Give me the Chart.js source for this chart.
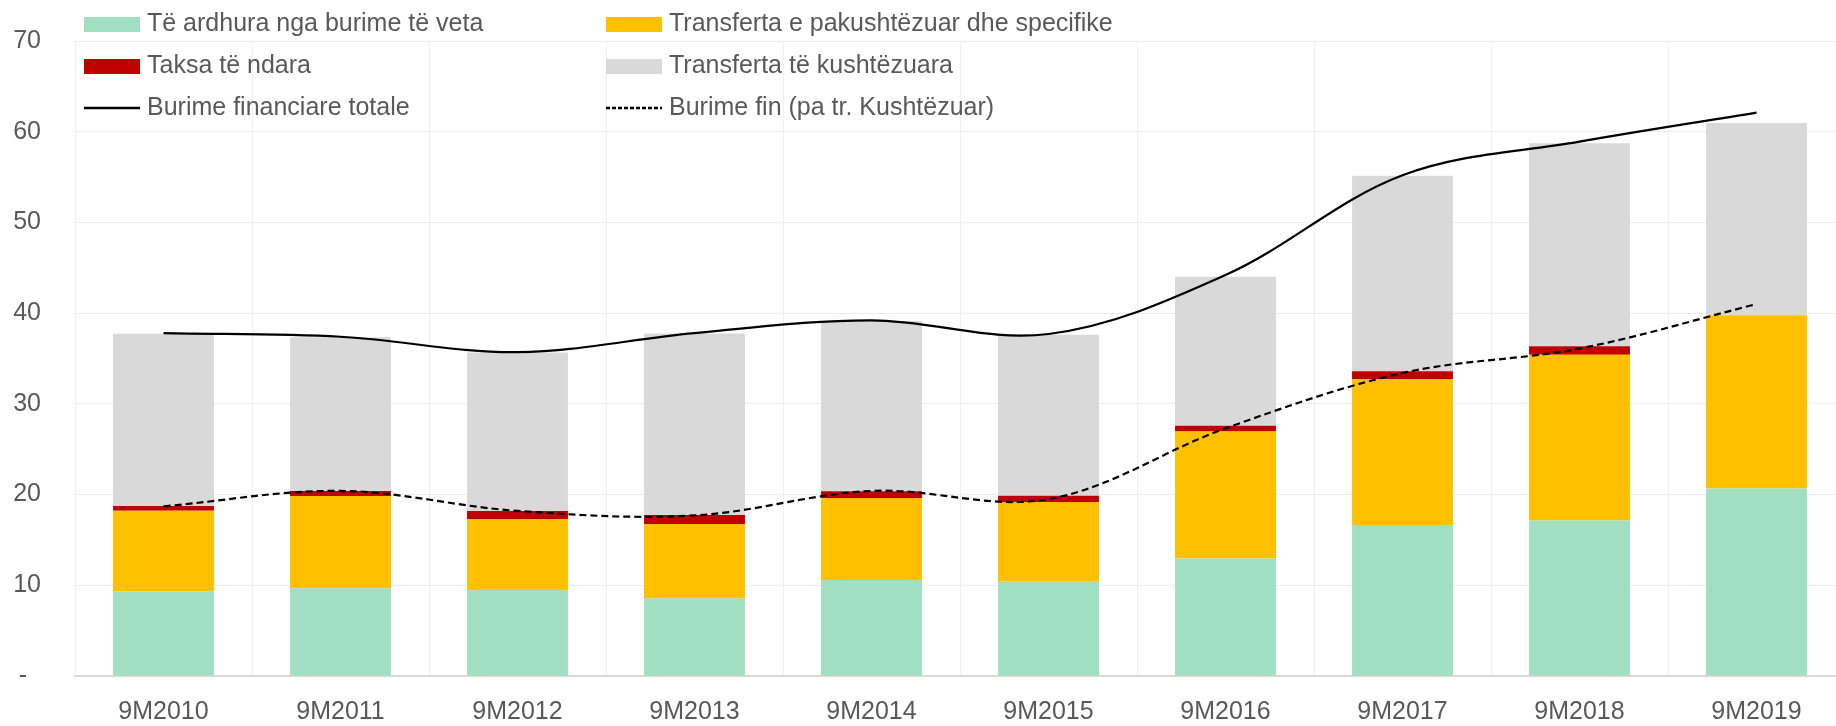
<!DOCTYPE html>
<html>
<head>
<meta charset="utf-8">
<script src="https://cdn.jsdelivr.net/npm/chart.js@4"></script>
<style>
  html, body { margin: 0; padding: 0; overflow: hidden; background: #fff; }
  #wrap { width: 1846px; height: 726px; position: relative; }
</style>
</head>
<body>
<div id="wrap"><canvas id="resources-chart"></canvas></div>
<script>
// Data (billions of lek)
var categories = ["9M2010","9M2011","9M2012","9M2013","9M2014","9M2015","9M2016","9M2017","9M2018","9M2019"];
var ownRevenue = [9.33, 9.67, 9.48, 8.56, 10.58, 10.4, 12.95, 16.64, 17.14, 20.68];
var unconditionalTransfers = [8.9, 10.18, 7.83, 8.2, 9.05, 8.78, 14.0, 16.09, 18.26, 19.09];
var sharedTaxes = [0.5, 0.55, 0.88, 1.0, 0.73, 0.7, 0.65, 0.87, 0.96, 0];
var conditionalTransfers = [19.0, 16.94, 17.46, 20.0, 18.78, 17.75, 16.4, 21.54, 22.37, 21.18];
var totalResources = [37.8, 37.4, 35.7, 37.8, 39.2, 37.7, 44.2, 55.2, 58.9, 62.1];
var resourcesExclConditional = [18.7, 20.4, 18.2, 17.7, 20.4, 19.5, 27.3, 33.4, 36.1, 41.0];
var yTicks = [0, 10, 20, 30, 40, 50, 60, 70];

var textColor = "#595959";
var fontFamily = "'Liberation Sans', Arial, sans-serif";
var fontSize = 25;

// legend drawn in two fixed columns over the top of the plot
var gridLegend = {
    id: "gridLegend",
    afterDraw: function(chart) {
        var c = chart.ctx;
        var colX = [84, 606];
        var rowY = [24, 66, 108];
        c.save();
        c.font = fontSize + "px " + fontFamily;
        c.textBaseline = "middle";
        chart.data.datasets.forEach(function(ds, i) {
            var x = colX[i % 2];
            var y = rowY[Math.floor(i / 2)];
            if (ds.type === "line") {
                c.strokeStyle = ds.borderColor;
                c.lineWidth = 2.5;
                c.setLineDash(ds.borderDash ? [4, 2] : []);
                c.beginPath();
                c.moveTo(x, y);
                c.lineTo(x + 56, y);
                c.stroke();
                c.setLineDash([]);
            } else {
                c.fillStyle = ds.backgroundColor;
                c.fillRect(x, y - 7, 56, 15);
            }
            c.fillStyle = textColor;
            c.fillText(ds.label, x + 63, y);
        });
        c.restore();
    }
};

var chartData = {
    labels: categories,
    datasets: [
        { label: "Të ardhura nga burime të veta", data: ownRevenue, backgroundColor: "#a1dfc2", stack: "bars", order: 1 },
        { label: "Transferta e pakushtëzuar dhe specifike", data: unconditionalTransfers, backgroundColor: "#ffc000", stack: "bars", order: 1 },
        { label: "Taksa të ndara", data: sharedTaxes, backgroundColor: "#c00000", stack: "bars", order: 1 },
        { label: "Transferta të kushtëzuara", data: conditionalTransfers, backgroundColor: "#d9d9d9", stack: "bars", order: 1 },
        { type: "line", label: "Burime financiare totale", data: totalResources, borderColor: "#000000", borderWidth: 2.2,
          pointRadius: 0, tension: 0.35, fill: false, stack: "total", order: 0 },
        { type: "line", label: "Burime fin (pa tr. Kushtëzuar)", data: resourcesExclConditional, borderColor: "#000000", borderWidth: 2.2,
          borderDash: [7, 4], pointRadius: 0, tension: 0.35, fill: false, stack: "fin", order: 0 }
    ]
};

var chartOptions = {
    responsive: true,
    maintainAspectRatio: false,
    animation: false,
    layout: { padding: { top: 41, right: 1, left: 0, bottom: 0 } },
    plugins: {
        legend: { display: false },
        tooltip: { enabled: false }
    },
    datasets: {
        bar: { categoryPercentage: 1, barPercentage: 0.57 }
    },
    scales: {
        x: {
            stacked: true,
            afterFit: function(scale) { scale.height = 50; },
            grid: { color: "#f0f0f0", drawTicks: false },
            border: { color: "#d9d9d9", width: 2 },
            ticks: { color: textColor, font: { family: fontFamily, size: fontSize }, padding: 21 }
        },
        y: {
            stacked: true,
            min: 0,
            max: 70,
            afterFit: function(scale) {
                scale.width = 75;
                scale.paddingTop = 0;
                scale.paddingBottom = 0;
            },
            afterBuildTicks: function(scale) {
                scale.ticks = yTicks.map(function(v) { return { value: v }; });
            },
            grid: { color: "#ececec", drawTicks: false },
            border: { display: false },
            ticks: {
                color: textColor,
                font: { family: fontFamily, size: fontSize },
                padding: 34,
                callback: function(v) { return v === 0 ? "-  " : v; }
            }
        }
    }
};

var ctx = document.getElementById("resources-chart");
var resourcesChart = new Chart(ctx, {
    type: "bar",
    data: chartData,
    options: chartOptions,
    plugins: [gridLegend]
});
</script>
</body>
</html>
